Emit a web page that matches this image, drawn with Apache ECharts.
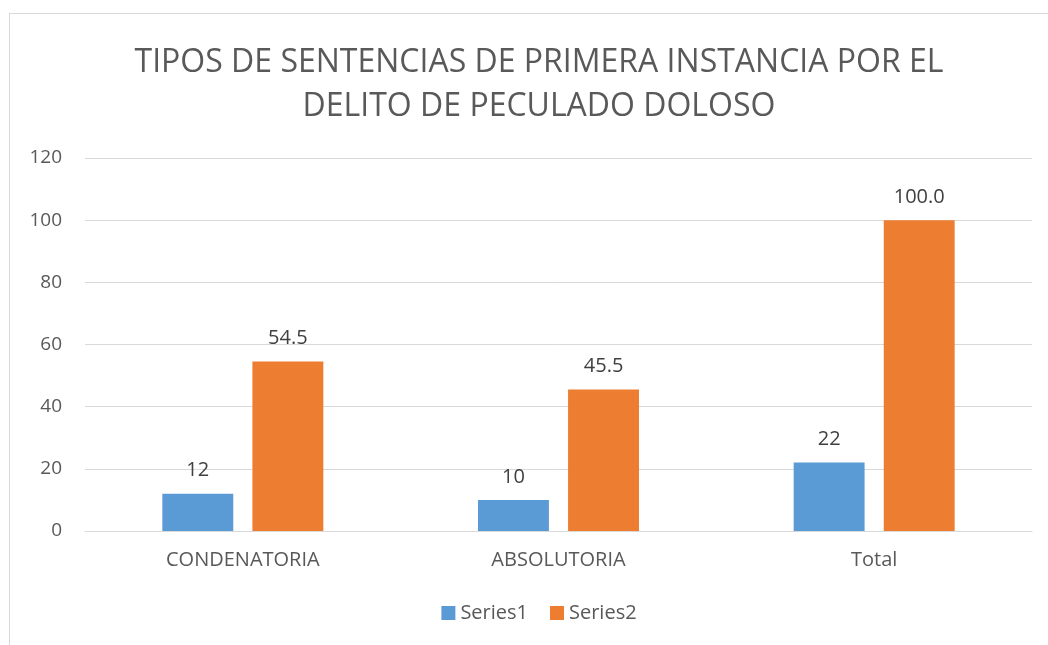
<!DOCTYPE html>
<html><head><meta charset="utf-8">
<script src="https://cdn.jsdelivr.net/npm/echarts@6/dist/echarts.min.js"></script>
<style>html,body{margin:0;padding:0;background:#fff;overflow:hidden;width:1048px;height:645px}#frame{position:absolute;left:9px;top:13px;width:1060px;height:660px;border:1px solid #d9d9d9;box-sizing:border-box}#c{position:absolute;left:0;top:0;width:1078px;height:645px}</style>
</head><body><div id="frame"></div><div id="c"></div>
<script>
const titleText = "TIPOS DE SENTENCIAS DE PRIMERA INSTANCIA POR EL\nDELITO DE PECULADO DOLOSO";
const categories = ["CONDENATORIA", "ABSOLUTORIA", "Total"];
const series1 = [12, 10, 22];
const series2 = [54.5, 45.5, 100.0];
const seriesNames = ["Series1", "Series2"];
const font = "Open Sans";
const chart = echarts.init(document.getElementById('c'));
chart.setOption({
  animation: false,
  textStyle: {fontFamily: font},
  title: {text: titleText, left: 'center', top: 36,
    textStyle: {fontFamily: font, fontSize: 32, fontWeight: 'normal', color: '#595959', lineHeight: 44}},
  grid: {left: 85, right: 46, top: 158, bottom: 114},
  legend: {bottom: 17, left: 'center', itemWidth: 14, itemHeight: 14, itemGap: 22,
    icon: 'rect', textStyle: {fontSize: 20, color: '#595959', fontFamily: font}, data: seriesNames},
  xAxis: {type: 'category', data: categories,
    axisLine: {lineStyle: {color: '#d9d9d9', width: 1}}, axisTick: {show: false},
    axisLabel: {fontSize: 20, color: '#595959', margin: 19}},
  yAxis: {type: 'value', min: 0, max: 120, interval: 20,
    axisLine: {show: false}, axisTick: {show: false},
    splitLine: {lineStyle: {color: '#d9d9d9', width: 1}},
    axisLabel: {fontSize: 19, color: '#595959', margin: 23}},
  series: [
    {name: seriesNames[0], type: 'bar', data: series1, barGap: '27%', barCategoryGap: '49%',
     itemStyle: {color: '#5B9BD5'},
     label: {show: true, position: 'top', distance: 13, fontSize: 20, color: '#404040'}},
    {name: seriesNames[1], type: 'bar', data: series2,
     itemStyle: {color: '#ED7D31'},
     label: {show: true, position: 'top', distance: 13, fontSize: 20, color: '#404040',
       formatter: p => p.value.toFixed(1)}}
  ]
});
</script></body></html>
